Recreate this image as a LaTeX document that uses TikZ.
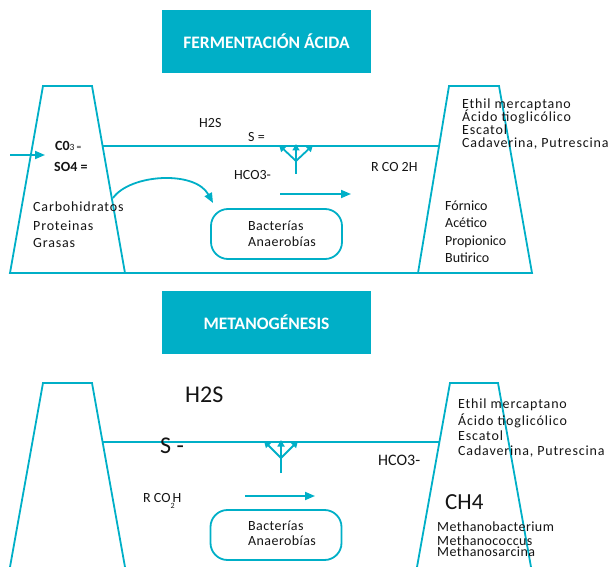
\documentclass[tikz,border=0pt]{standalone}
\usepackage{fontspec}
\setmainfont{Carlito}
\newfontfamily\spaced[LetterSpace=6]{Carlito}
\newfontfamily\spacedlight[LetterSpace=3]{Carlito}
\usetikzlibrary{arrows.meta}
\definecolor{teal1}{RGB}{0,175,199}
\definecolor{ink}{RGB}{20,20,20}

\begin{document}
\begin{tikzpicture}[x=1pt,y=-1pt,
  wall/.style={draw=teal1, line width=1.8pt, line join=miter},
  flow/.style={draw=teal1, line width=1.8pt, -{Triangle[length=10pt,width=8pt]}},
  fork/.style={draw=teal1, line width=1.8pt, -{Triangle[length=6.5pt,width=7pt]}},
  banner/.style={fill=teal1, text=white, inner sep=0pt,
    font=\bfseries\fontsize{17.5}{20}\selectfont,
    minimum width=209pt, minimum height=63pt},
  pill/.style={draw=teal1, line width=1.8pt, rounded corners=17pt,
    minimum width=131pt, minimum height=50pt, inner sep=0pt},
  txt/.style={anchor=base west, inner sep=0pt, text=ink, font=\fontsize{14}{16}\selectfont},
  sptxt/.style={txt, font=\spaced\fontsize{14}{16}\selectfont},
  lighttxt/.style={txt, font=\spacedlight\fontsize{14}{16}\selectfont},
  bigtxt/.style={txt, font=\fontsize{24}{28}\selectfont},
  boldtxt/.style={txt, font=\bfseries\fontsize{14}{16}\selectfont}
]
\useasboundingbox (0,0) rectangle (611,567);

% ---------- banners ----------
\node[banner] (t1) at (266.5,41.5) {FERMENTACIÓN ÁCIDA};
\node[banner] (t2) at (266.5,322) {METANOGÉNESIS};

% ---------- upper stage: walls, floor and pipe ----------
\draw[wall] (125,273) -- (92,86) -- (43,86) -- (10,273) -- (532,273)
  -- (499,86) -- (449,86) -- (418,273);
\coordinate (p1a) at (102.6,146);
\coordinate (p1b) at (439,146);
\draw[wall] (p1a) -- (p1b);

% feed arrow
\coordinate (in1) at (10,155);
\coordinate (in2) at (45,155);
\draw[flow] (in1) -- (in2);

% curved arrow to the bacteria
\coordinate (c1) at (113,198);
\coordinate (c2) at (213,203);
\draw[flow] (c1) .. controls (130,174) and (195,170) .. (c2);

% straight arrow
\coordinate (a1) at (280,194);
\coordinate (a2) at (351,194);
\draw[flow] (a1) -- (a2);

% gas fork
\coordinate (f1s) at (296,174);
\coordinate (f1) at (296,161);
\coordinate (f1l) at (279,145);
\coordinate (f1m) at (296,144);
\coordinate (f1r) at (313,145);
\draw[wall] (f1s) -- (f1);
\draw[fork] (f1) -- (f1l);
\draw[fork] (f1) -- (f1m);
\draw[fork] (f1) -- (f1r);

% bacteria box
\node[pill] (b1) at (276.5,234) {};
\node[lighttxt] (b1a) at (248,230.5) {Bacterías};
\node[lighttxt] (b1b) at (248,246.5) {Anaerobías};

% labels, upper stage
\node[boldtxt] (co3) at (55,151) {C0{\mdseries\fontsize{9.5}{10}\selectfont 3 =}};
\node[boldtxt] (so4) at (54,172) {SO4 =};
\node[sptxt] (l1) at (33,211.5) {Carbohidratos};
\node[sptxt] (l2) at (33,230.5) {Proteinas};
\node[sptxt] (l3) at (33,247.5) {Grasas};

\node[txt] (h2s1) at (199,127.5) {H2S};
\node[txt] (s1) at (248,141.5) {S =};
\node[txt] (hco1) at (234,179.5) {HCO3-};
\node[txt] (rco1) at (371,171.5) {R CO 2H};

\node[sptxt] (r1) at (462,108.5) {Ethil mercaptano};
\node[sptxt] (r2) at (462,121.5) {Ácido tioglicólico};
\node[sptxt] (r3) at (462,134.5) {Escatol};
\node[sptxt] (r4) at (462,147.5) {Cadaverina, Putrescina};

\node[txt] (k1) at (445,210.5) {Fórnico};
\node[txt] (k2) at (445,228) {Acético};
\node[txt] (k3) at (445,245.5) {Propionico};
\node[txt] (k4) at (445,262.5) {Butirico};

% ---------- lower stage: walls and pipe ----------
\draw[wall] (10,567) -- (43,383) -- (92,383) -- (125,567);
\draw[wall] (417,567) -- (450,383) -- (498,383) -- (531,567);
\coordinate (p2a) at (102.6,442);
\coordinate (p2b) at (439,442);
\draw[wall] (p2a) -- (p2b);

% straight arrow
\coordinate (a3) at (245,496);
\coordinate (a4) at (315,496);
\draw[flow] (a3) -- (a4);

% gas fork
\coordinate (f2s) at (281,473);
\coordinate (f2) at (281,458);
\coordinate (f2l) at (264,441);
\coordinate (f2m) at (281,440);
\coordinate (f2r) at (298,441);
\draw[wall] (f2s) -- (f2);
\draw[fork] (f2) -- (f2l);
\draw[fork] (f2) -- (f2m);
\draw[fork] (f2) -- (f2r);

% bacteria box
\node[pill] (b2) at (276,535) {};
\node[lighttxt] (b2a) at (248,530) {Bacterías};
\node[lighttxt] (b2b) at (248,545) {Anaerobías};

% labels, lower stage
\node[bigtxt] (h2s2) at (185,402.7) {H2S};
\node[bigtxt] (s2) at (160,453) {S -};
\node[txt] (rco2) at (143,502.7) {R CO\raisebox{-6pt}{\fontsize{8}{8}\selectfont 2}\kern-2pt H};
\node[txt, font=\fontsize{16}{18}\selectfont] (hco2) at (378,465) {HCO3-};

\node[sptxt] (m1) at (458,408.3) {Ethil mercaptano};
\node[sptxt] (m2) at (458,425) {Ácido tioglicólico};
\node[sptxt] (m3) at (458,440.7) {Escatol};
\node[sptxt] (m4) at (458,455.7) {Cadaverina, Putrescina};

\node[bigtxt, font=\fontsize{23}{26}\selectfont] (ch4) at (445,509) {CH4};
\node[lighttxt] (n1) at (437,531.7) {Methanobacterium};
\node[lighttxt] (n2) at (437,545) {Methanococcus};
\node[lighttxt] (n3) at (437,556) {Methanosarcina};
\end{tikzpicture}
\end{document}
